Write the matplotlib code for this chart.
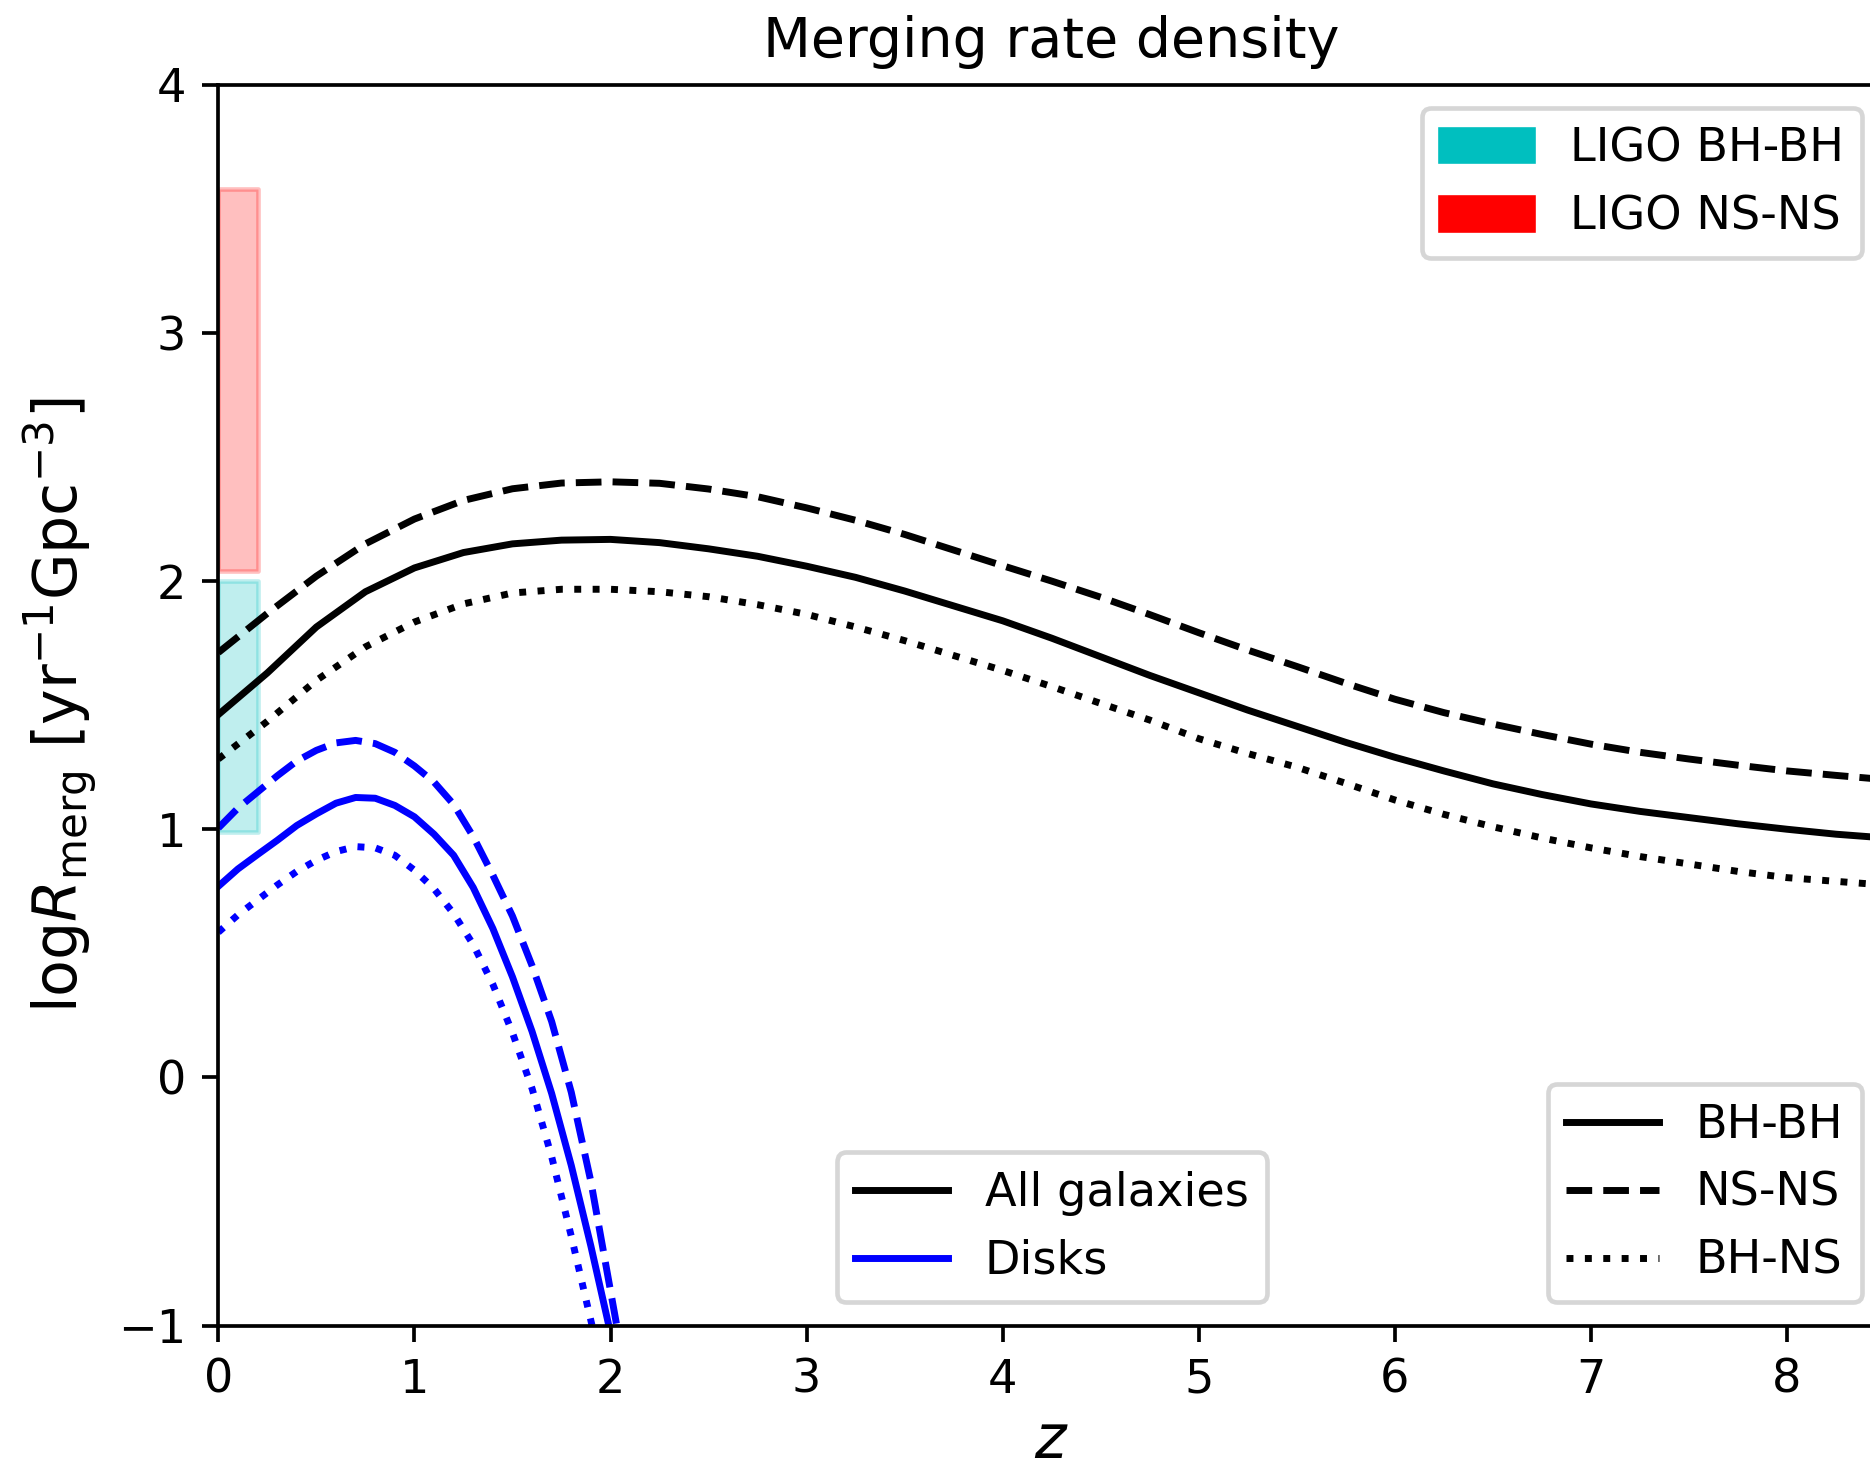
import matplotlib
matplotlib.use("Agg")
import matplotlib.pyplot as plt
import matplotlib.patches as mpatches
from matplotlib.lines import Line2D
import numpy as np

# redshift grid for the all-galaxy curves
z_all = [0.0, 0.25, 0.5, 0.75, 1.0, 1.25, 1.5, 1.75, 2.0, 2.25, 2.5, 2.75,
         3.0, 3.25, 3.5, 3.75, 4.0, 4.25, 4.5, 4.75, 5.0, 5.25, 5.5, 5.75,
         6.0, 6.25, 6.5, 6.75, 7.0, 7.25, 7.5, 7.75, 8.0, 8.25, 8.5]
all_bhbh = [1.462, 1.63, 1.815, 1.957, 2.053, 2.115, 2.150, 2.165, 2.168, 2.155, 2.130, 2.100,
            2.060, 2.015, 1.960, 1.900, 1.840, 1.770, 1.695, 1.620, 1.550, 1.480, 1.415, 1.350,
            1.290, 1.235, 1.183, 1.140, 1.102, 1.072, 1.047, 1.022, 1.000, 0.980, 0.965]
all_nsns = [1.712, 1.87, 2.02, 2.15, 2.250, 2.325, 2.372, 2.395, 2.400, 2.394, 2.371, 2.340,
            2.295, 2.245, 2.188, 2.125, 2.062, 2.000, 1.935, 1.865, 1.792, 1.722, 1.656, 1.588,
            1.524, 1.470, 1.424, 1.382, 1.343, 1.310, 1.283, 1.258, 1.235, 1.217, 1.200]
all_bhns = [1.283, 1.435, 1.60, 1.735, 1.835, 1.908, 1.952, 1.967, 1.967, 1.957, 1.937, 1.905,
            1.866, 1.815, 1.760, 1.700, 1.640, 1.575, 1.507, 1.440, 1.365, 1.305, 1.250, 1.185,
            1.118, 1.060, 1.010, 0.965, 0.925, 0.890, 0.860, 0.830, 0.805, 0.790, 0.775]

# disk galaxies only
z_disk = [0.0, 0.1, 0.2, 0.3, 0.4, 0.5, 0.6, 0.7, 0.8, 0.9, 1.0, 1.1,
          1.2, 1.3, 1.4, 1.5, 1.6, 1.7, 1.8, 1.9, 2.0, 2.1]
disk_bhbh = [0.770, 0.840, 0.898, 0.955, 1.015, 1.062, 1.105, 1.128, 1.125, 1.096, 1.050, 0.980,
             0.895, 0.765, 0.600, 0.405, 0.185, -0.065, -0.355, -0.680, -1.030, -1.40]
disk_nsns = [1.005, 1.085, 1.150, 1.215, 1.275, 1.318, 1.348, 1.358, 1.345, 1.310, 1.255, 1.190,
             1.100, 0.970, 0.815, 0.650, 0.450, 0.225, -0.060, -0.420, -0.860, -1.30]
disk_bhns = [0.585, 0.655, 0.715, 0.775, 0.830, 0.875, 0.910, 0.930, 0.925, 0.895, 0.835, 0.760,
             0.660, 0.535, 0.375, 0.180, -0.045, -0.320, -0.640, -0.980, -1.320, -1.65]

# LIGO rate ranges (log Gpc^-3 yr^-1) at low redshift
ligo_z = [0.0, 0.2]
ligo_bhbh = (0.99, 2.00)
ligo_nsns = (2.04, 3.58)

dpi = 333
fig = plt.figure(figsize=(1871 / dpi, 1474 / dpi), dpi=dpi)
ax = fig.add_axes([0.1167, 0.1007, 0.8908, 0.8418])

ax.fill_between(ligo_z, ligo_bhbh[0], ligo_bhbh[1], color='c', alpha=0.25)
ax.fill_between(ligo_z, ligo_nsns[0], ligo_nsns[1], color='r', alpha=0.25)

ax.plot(z_all, all_bhbh, color='k', ls='-')
ax.plot(z_all, all_nsns, color='k', ls='--')
ax.plot(z_all, all_bhns, color='k', ls=':')
ax.plot(z_disk, disk_bhbh, color='b', ls='-')
ax.plot(z_disk, disk_nsns, color='b', ls='--')
ax.plot(z_disk, disk_bhns, color='b', ls=':')

ax.set_xlim(0, 8.5)
ax.set_ylim(-1, 4)
ax.set_xticks(np.arange(0, 9, 1))
ax.set_yticks(np.arange(-1, 5, 1))
ax.set_xlabel(r'$z$', fontsize=13, labelpad=2)
ax.set_ylabel(r'log$R_{\rm merg}$ [yr$^{-1}$Gpc$^{-3}$]', fontsize=13)
ax.set_title('Merging rate density', fontsize=12)

# three separate legends
leg1 = ax.legend(handles=[mpatches.Patch(color='c', label='LIGO BH-BH'),
                          mpatches.Patch(color='r', label='LIGO NS-NS')],
                 loc='upper right')
ax.add_artist(leg1)
leg2 = ax.legend(handles=[Line2D([], [], color='k', ls='-', label='BH-BH'),
                          Line2D([], [], color='k', ls='--', label='NS-NS'),
                          Line2D([], [], color='k', ls=':', label='BH-NS')],
                 loc='lower right')
ax.add_artist(leg2)
ax.legend(handles=[Line2D([], [], color='k', label='All galaxies'),
                   Line2D([], [], color='b', label='Disks')],
          loc='lower center')

fig.savefig('out.png', dpi=dpi)
